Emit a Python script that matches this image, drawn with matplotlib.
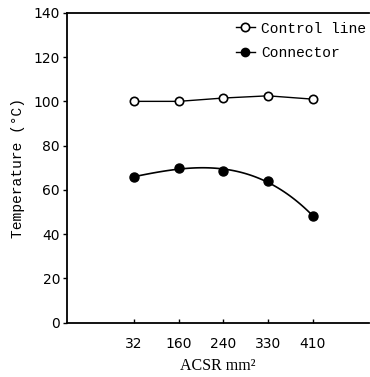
import matplotlib.pyplot as plt
import numpy as np

# ACSR conductor sizes (mm^2), shown as equally spaced categories
sizes = ['32', '160', '240', '330', '410']
control_line = [100, 100, 101.5, 102.5, 101]
connector = [65.8, 70, 68.5, 64, 48.2]

mono = 'Liberation Mono'

fig = plt.figure(figsize=(3.7, 3.77), dpi=100)
ax = fig.add_axes([0.181, 0.144, 0.815, 0.822])

x = np.arange(len(sizes))

ax.plot(x, control_line, '-o', color='black', mfc='white', mec='black',
        ms=6, mew=1.2, lw=1.0, label='Control line')

# smooth fitted curve through the connector points
coef = np.polyfit(x, connector, 3)
xs = np.linspace(x[0], x[-1], 100)
ax.plot(xs, np.polyval(coef, xs), color='black', lw=1.2)
ax.plot(x, connector, 'o', color='black', ms=6.5)
ax.plot([], [], '-o', color='black', ms=6, lw=1.0, label='Connector')

ax.set_xlim(-1.5, 5.25)
ax.set_ylim(0, 140)
ax.set_xticks(x)
ax.set_xticklabels(sizes)
ax.set_yticks(range(0, 141, 20))

ax.spines['right'].set_visible(False)
for s in ['left', 'bottom', 'top']:
    ax.spines[s].set_linewidth(1.3)

ax.tick_params(length=3, width=1, labelsize=10)
ax.tick_params(axis='x', direction='in', pad=10)
ax.tick_params(axis='y', direction='out', pad=2)

ax.set_xlabel('ACSR mm²', family='Liberation Serif', fontsize=11.5, labelpad=5)
ax.set_ylabel('Temperature (°C)', family=mono, fontsize=10.5, labelpad=6)

ax.legend(loc='upper right', bbox_to_anchor=(1.02, 1.0), frameon=False,
          prop={'family': mono, 'size': 10.5}, handlelength=1.3,
          handletextpad=0.4, labelspacing=0.7, borderaxespad=0.2)

fig.savefig('out.png', dpi=100)
